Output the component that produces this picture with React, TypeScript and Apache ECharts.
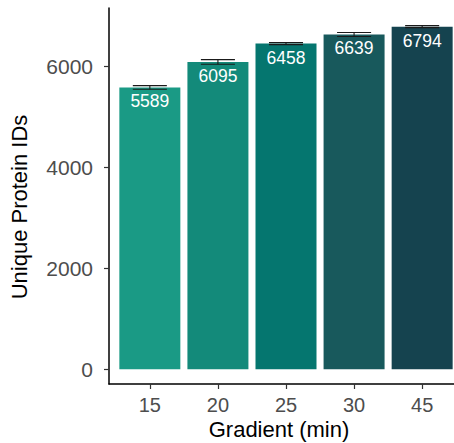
import React, { useEffect, useRef } from "react";
import * as echarts from "echarts";

const categories = ["15", "20", "25", "30", "45"];
const values = [5589, 6095, 6458, 6639, 6794];
const errors = [35, 45, 20, 40, 20];
const colors = ["#1a9a85", "#138a7a", "#05766f", "#18595c", "#15434f"];
const yTicks = [0, 2000, 4000, 6000];
const xPositions = [1, 2, 3, 4, 5];

const FONT = "'Liberation Sans', Arial, Helvetica, sans-serif";

export default function App() {
  const ref = useRef<HTMLDivElement>(null);
  useEffect(() => {
    if (!ref.current) return;
    const chart = echarts.init(ref.current, null, { renderer: "svg" });
    const barData = values.map((v, i) => ({
      value: [xPositions[i], v],
      itemStyle: { color: colors[i] },
    }));
    const errData = values.map((v, i) => [xPositions[i], v - errors[i], v + errors[i]]);
    chart.setOption({
      animation: false,
      backgroundColor: "#ffffff",
      textStyle: { fontFamily: FONT },
      grid: { left: 109, top: 8, bottom: 59, width: 354 },
      xAxis: {
        type: "value",
        min: 0.4,
        max: 5.6,
        axisLine: { show: true, onZero: false, lineStyle: { color: "#000", width: 1.5 } },
        axisTick: { show: true, length: 5, customValues: xPositions, lineStyle: { color: "#333", width: 1.2 } },
        axisLabel: {
          customValues: xPositions,
          formatter: (v: number) => categories[Math.round(v) - 1],
          color: "#4d4d4d",
          fontSize: 20,
          margin: 11,
          fontFamily: FONT,
        },
        splitLine: { show: false },
      },
      yAxis: {
        type: "value",
        min: -291,
        max: 7164,
        axisLine: { show: true, onZero: false, lineStyle: { color: "#000", width: 1.5 } },
        axisTick: { show: true, length: 5, customValues: yTicks, lineStyle: { color: "#333", width: 1.2 } },
        axisLabel: {
          customValues: yTicks,
          formatter: (v: number) => String(v),
          color: "#4d4d4d",
          fontSize: 21,
          margin: 16,
          fontFamily: FONT,
        },
        splitLine: { show: false },
      },
      series: [
        {
          type: "bar",
          data: barData,
          barWidth: 61,
          label: {
            show: true,
            position: "insideTop",
            distance: 5,
            color: "#ffffff",
            fontSize: 17.5,
            fontFamily: FONT,
            formatter: (p: any) => String(p.value[1]),
          },
        },
        {
          type: "custom",
          data: errData,
          z: 5,
          renderItem: (params: any, api: any) => {
            const x = api.value(0);
            const lo = api.coord([x, api.value(1)]);
            const hi = api.coord([x, api.value(2)]);
            const half = api.size([0.5, 0])[0] / 2;
            const style = { stroke: "#1a1a1a", lineWidth: 1.1 };
            return {
              type: "group",
              children: [
                { type: "line", shape: { x1: lo[0] - half, y1: lo[1], x2: lo[0] + half, y2: lo[1] }, style },
                { type: "line", shape: { x1: hi[0] - half, y1: hi[1], x2: hi[0] + half, y2: hi[1] }, style },
                { type: "line", shape: { x1: lo[0], y1: lo[1], x2: hi[0], y2: hi[1] }, style },
              ],
            };
          },
        },
      ],
      graphic: [
        {
          type: "text",
          x: 279,
          y: 429,
          style: {
            text: "Gradient (min)",
            fill: "#000",
            font: `22px ${FONT}`,
            textAlign: "center",
            textVerticalAlign: "middle",
          },
        },
        {
          type: "text",
          x: 19,
          y: 207,
          rotation: Math.PI / 2,
          style: {
            text: "Unique Protein IDs",
            fill: "#000",
            font: `22px ${FONT}`,
            textAlign: "center",
            textVerticalAlign: "middle",
          },
        },
      ],
    });
    return () => chart.dispose();
  }, []);
  return (
    <div
      ref={ref}
      style={{ position: "fixed", left: 0, top: 0, width: 470, height: 443 }}
    />
  );
}
